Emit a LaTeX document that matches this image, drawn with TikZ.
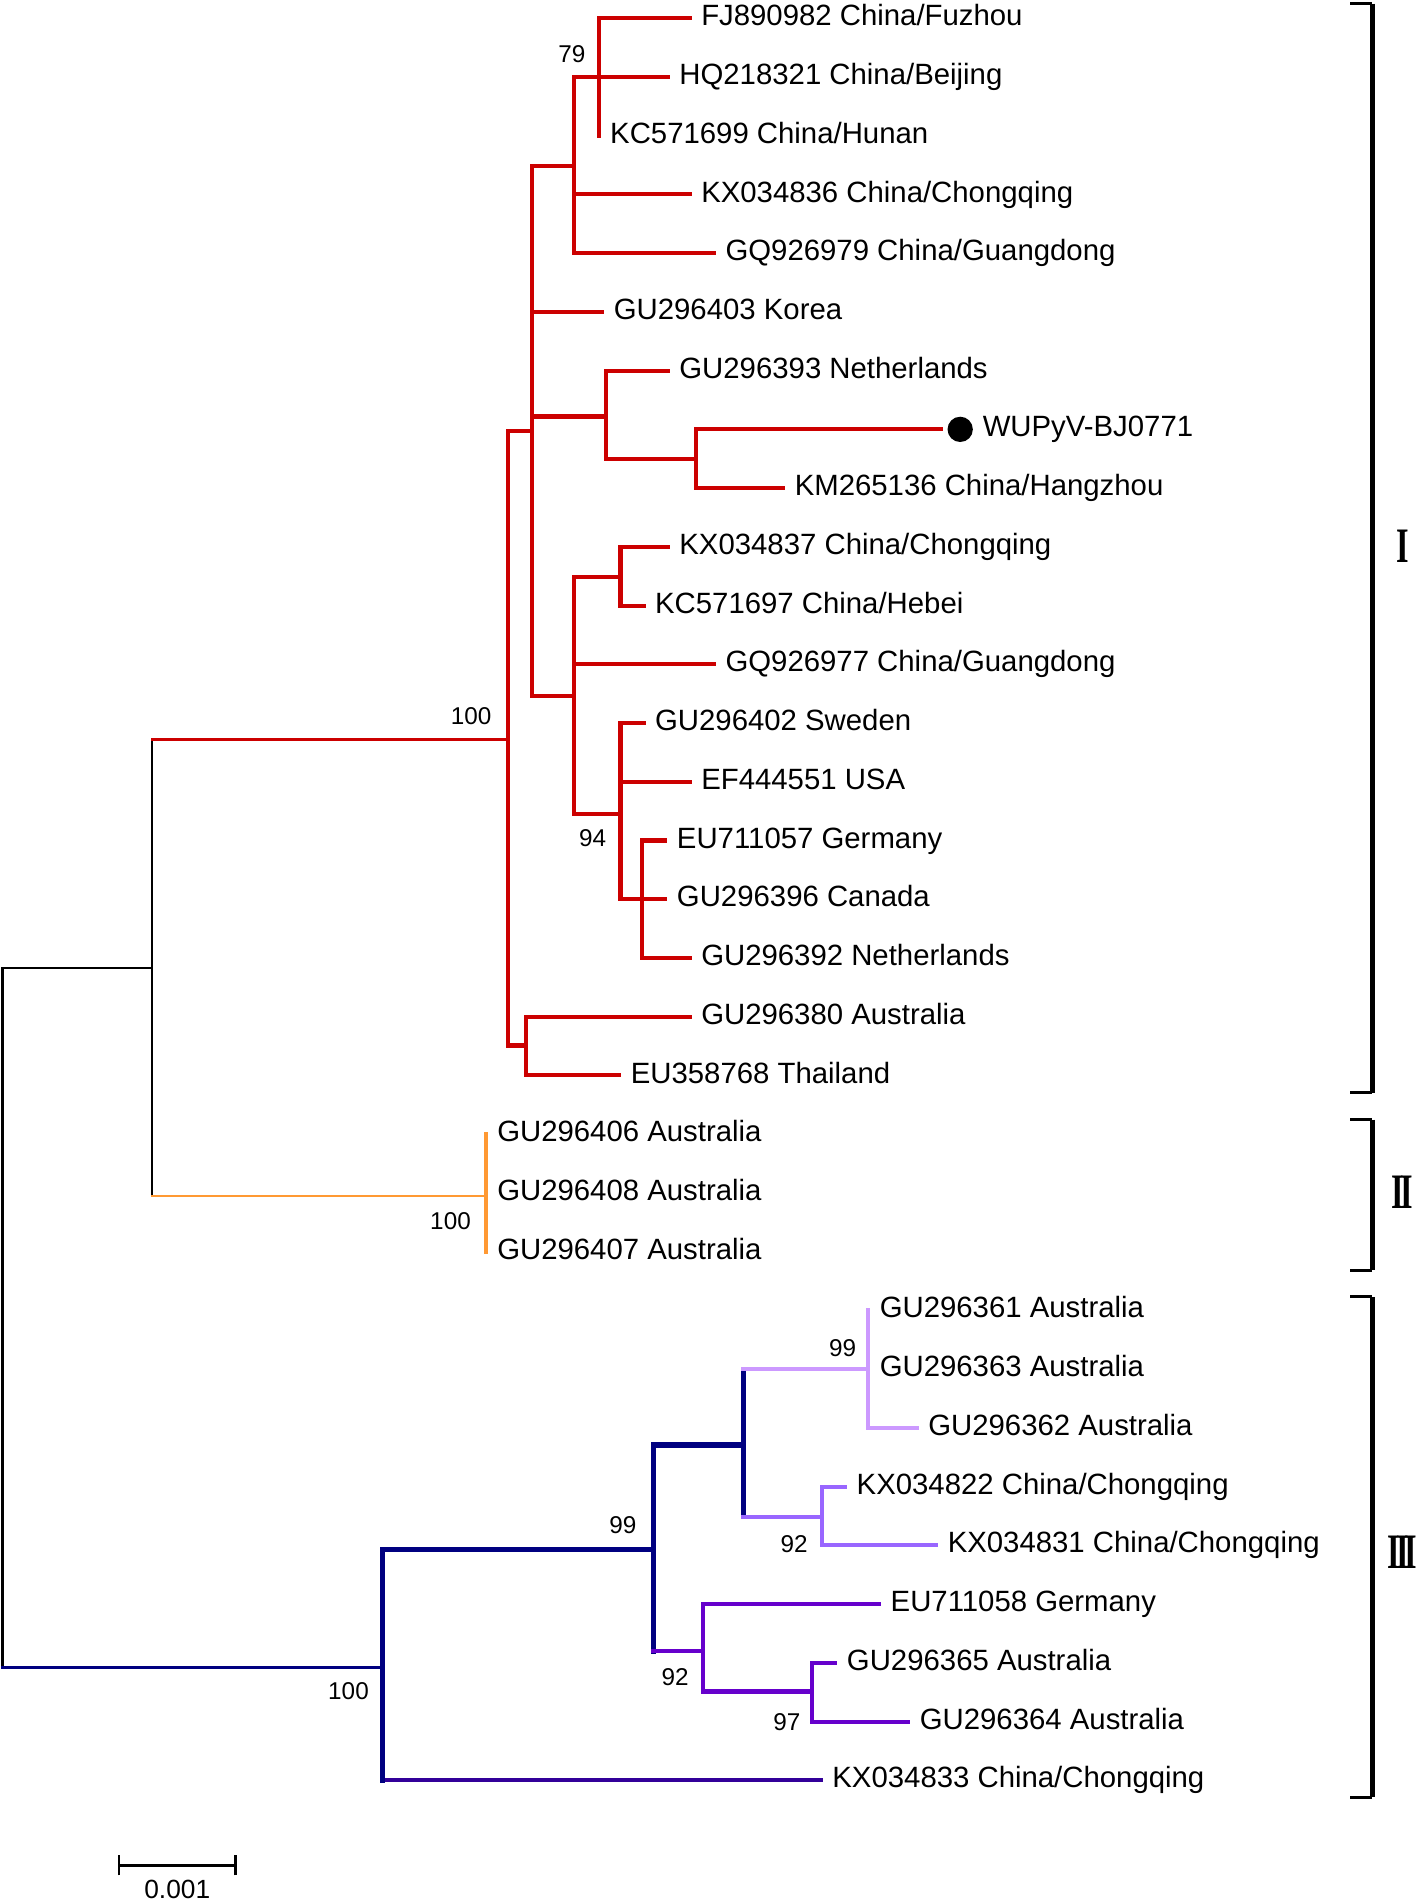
\documentclass[tikz,border=0pt]{standalone}
\usepackage{fontspec}
\setmainfont{Liberation Sans}
\newfontfamily\romanfont[FakeStretch=0.65]{Liberation Serif}
\usepackage{xcolor}
\usepackage{tikz}
\usetikzlibrary{positioning}
\definecolor{cladered}{RGB}{204,0,0}
\definecolor{cladeorange}{RGB}{255,153,51}
\definecolor{cladenavy}{RGB}{0,0,128}
\definecolor{cladelilac}{RGB}{204,153,255}
\definecolor{cladeviolet}{RGB}{153,102,255}
\definecolor{cladepurple}{RGB}{102,0,204}
\definecolor{cladeindigo}{RGB}{51,0,153}
\newcommand{\rmI}{I\kern-1.9pt}
\tikzset{
  leaf/.style={inner sep=0.5pt, font=\fontsize{14.5}{16}\selectfont, text=black,
    text height=10.5pt, text depth=3pt},
  boot/.style={inner sep=0pt, font=\fontsize{12}{14}\selectfont, text=black},
  br/.style={line width=2pt, line cap=rect},
  stem/.style={line width=1.2pt, line cap=rect},
  bigbr/.style={line width=2.5pt, line cap=rect},
  bracket/.style={line width=2.4pt},
  tick/.style={line width=1.4pt},
  clade/.style={inner sep=0pt, font=\romanfont\bfseries\fontsize{24.5}{26}\selectfont},
}
\begin{document}
\begin{tikzpicture}[x=0.6pt, y=-0.6pt]
  \useasboundingbox (0,0) rectangle (1168,1568);
  % internal nodes of the tree
  \coordinate (root) at (2,1085);
  \coordinate (nA) at (125,797);
  \coordinate (nR) at (418,609);
  \coordinate (nO) at (400,985);
  \coordinate (nC) at (438,355);
  \coordinate (nP) at (473,137);
  \coordinate (n79) at (493,63.4);
  \coordinate (nQ) at (499,343);
  \coordinate (nW) at (573,378);
  \coordinate (nS) at (473,573);
  \coordinate (nK) at (511,475);
  \coordinate (nU) at (511,670);
  \coordinate (nG) at (529,740.6);
  \coordinate (nT) at (433,861);
  \coordinate (nB) at (315,1373);
  \coordinate (nX) at (538,1276);
  \coordinate (nD) at (612,1190);
  \coordinate (nF) at (715,1127.5);
  \coordinate (nV) at (677,1249);
  \coordinate (nE) at (579,1360);
  \coordinate (nH) at (669,1393);

  % leaves
  \foreach \i/\tx/\up/\col/\lab in {
    0/568/n79/cladered/{FJ890982 China/Fuzhou},
    1/550/n79/cladered/{HQ218321 China/Beijing},
    2/493/n79/cladered/{KC571699 China/Hunan},
    3/568/nP/cladered/{KX034836 China/Chongqing},
    4/588/nP/cladered/{GQ926979 China/Guangdong},
    5/496/nC/cladered/{GU296403 Korea},
    6/550/nQ/cladered/{GU296393 Netherlands},
    8/645/nW/cladered/{KM265136 China/Hangzhou},
    9/550/nK/cladered/{KX034837 China/Chongqing},
    10/530/nK/cladered/{KC571697 China/Hebei},
    11/588/nS/cladered/{GQ926977 China/Guangdong},
    12/530/nU/cladered/{GU296402 Sweden},
    13/568/nU/cladered/{EF444551 USA},
    14/548/nG/cladered/{EU711057 Germany},
    15/548/nG/cladered/{GU296396 Canada},
    16/568/nG/cladered/{GU296392 Netherlands},
    17/568/nT/cladered/{GU296380 Australia},
    18/510/nT/cladered/{EU358768 Thailand},
    19/400/nO/cladeorange/{GU296406 Australia},
    20/400/nO/cladeorange/{GU296408 Australia},
    21/400/nO/cladeorange/{GU296407 Australia},
    22/715/nF/cladelilac/{GU296361 Australia},
    23/715/nF/cladelilac/{GU296363 Australia},
    24/755/nF/cladelilac/{GU296362 Australia},
    25/696/nV/cladeviolet/{KX034822 China/Chongqing},
    26/771/nV/cladeviolet/{KX034831 China/Chongqing},
    27/724/nE/cladepurple/{EU711058 Germany},
    28/688/nH/cladepurple/{GU296365 Australia},
    29/748/nH/cladepurple/{GU296364 Australia},
    30/676/nB/cladeindigo/{KX034833 China/Chongqing}}{
    \coordinate (t\i) at (\tx,{15+48.37*\i});
    \draw[br, \col] (\up |- t\i) -- (t\i);
    \node[leaf, right=5pt of t\i] (l\i) {\lab};
  }
  % the new strain
  \coordinate (t7) at (775,{15+48.37*7});
  \draw[br, cladered] (nW |- t7) -- (t7);
  \node[circle, fill=black, minimum size=12.5pt, inner sep=0pt, right=3pt of t7] (dot) {};
  \node[leaf, right=4pt of dot] (l7) {WUPyV-BJ0771};

  % root and upper split
  \draw[stem, black] (root |- nA) -- (root |- nB);
  \draw[stem, black] (root |- nA) -- (nA);
  \draw[stem, line width=1.6pt, cladenavy] (root |- nB) -- (nB);
  \draw[stem, black] (nA |- nR) -- (nA |- nO);
  \draw[stem, cladered] (nA |- nR) -- (nR);
  \draw[stem, cladeorange] (nA |- nO) -- (nO);
  \draw[br, cladeorange] (nO |- t19) -- (nO |- t21);

  % clade I
  \draw[br, cladered] (nR |- nC) -- (nR |- nT);
  \draw[br, cladered] (nR |- nC) -- (nC);
  \draw[br, cladered] (nR |- nT) -- (nT);
  \draw[br, cladered] (nT |- t17) -- (nT |- t18);
  \draw[br, cladered] (nC |- nP) -- (nC |- nS);
  \draw[br, cladered] (nC |- nP) -- (nP);
  \draw[br, cladered] (nC |- nQ) -- (nQ);
  \draw[br, cladered] (nC |- nS) -- (nS);
  \draw[br, cladered] (nP |- n79) -- (nP |- t4);
  \draw[br, cladered] (nP |- n79) -- (n79);
  \draw[br, cladered] (n79 |- t0) -- (n79 |- t2);
  \draw[br, cladered] (nQ |- t6) -- (nQ |- nW);
  \draw[br, cladered] (nQ |- nW) -- (nW);
  \draw[br, cladered] (nW |- t7) -- (nW |- t8);
  \draw[br, cladered] (nS |- nK) -- (nS |- nU);
  \draw[br, cladered] (nS |- nK) -- (nK);
  \draw[br, cladered] (nS |- nU) -- (nU);
  \draw[br, cladered] (nK |- t9) -- (nK |- t10);
  \draw[br, cladered] (nU |- t12) -- (nU |- nG);
  \draw[br, cladered] (nU |- nG) -- (nG);
  \draw[br, cladered] (nG |- t14) -- (nG |- t16);

  % clade III
  \draw[bigbr, cladenavy] (nB |- nX) -- (nB |- t30);
  \draw[bigbr, cladenavy] (nB |- nX) -- (nX);
  \draw[bigbr, cladenavy] (nX |- nD) -- (nX |- nE);
  \draw[bigbr, cladenavy] (nX |- nD) -- (nD);
  \draw[br, cladepurple] (nX |- nE) -- (nE);
  \draw[bigbr, cladenavy] (nD |- nF) -- (nD |- nV);
  \draw[br, cladelilac] (nD |- nF) -- (nF);
  \draw[br, cladeviolet] (nD |- nV) -- (nV);
  \draw[br, cladelilac] (nF |- t22) -- (nF |- t24);
  \draw[br, cladeviolet] (nV |- t25) -- (nV |- t26);
  \draw[br, cladepurple] (nE |- t27) -- (nE |- nH);
  \draw[br, cladepurple] (nE |- nH) -- (nH);
  \draw[br, cladepurple] (nH |- t28) -- (nH |- t29);

  % bootstrap values
  \node[boot] (b79) at (471,45) {79};
  \node[boot] (bR) at (388,590) {100};
  \node[boot] (bU) at (488,690) {94};
  \node[boot] (bO) at (371,1006) {100};
  \node[boot] (bF) at (694,1110) {99};
  \node[boot] (bX) at (513,1256) {99};
  \node[boot] (bV) at (654,1272) {92};
  \node[boot] (bE) at (556,1381) {92};
  \node[boot] (bH) at (648,1418) {97};
  \node[boot] (bB) at (287,1393) {100};

  % clade brackets
  \draw[bracket] (1130,3) -- (1130,900);
  \draw[tick] (1112,3) -- (1130,3) (1112,900) -- (1130,900);
  \node[clade] (cI) at (1155,450) {I};
  \draw[bracket] (1130,922) -- (1130,1046);
  \draw[tick] (1112,922) -- (1130,922) (1112,1046) -- (1130,1046);
  \node[clade] (cII) at (1155,982) {\rmI I};
  \draw[bracket] (1130,1068) -- (1130,1480);
  \draw[tick] (1112,1068) -- (1130,1068) (1112,1480) -- (1130,1480);
  \node[clade] (cIII) at (1155,1278) {\rmI\rmI I};

  % scale bar
  \coordinate (sbl) at (98,1536);
  \coordinate (sbr) at (194,1536);
  \coordinate (sbm) at (146,1536);
  \draw[tick] (sbl) -- (sbr);
  \draw[tick] ([yshift=-5pt]sbl) -- ([yshift=5pt]sbl);
  \draw[tick] ([yshift=-5pt]sbr) -- ([yshift=5pt]sbr);
  \node[boot, font=\fontsize{13}{15}\selectfont, below=7pt of sbm] (sblab) {0.001};
\end{tikzpicture}
\end{document}
